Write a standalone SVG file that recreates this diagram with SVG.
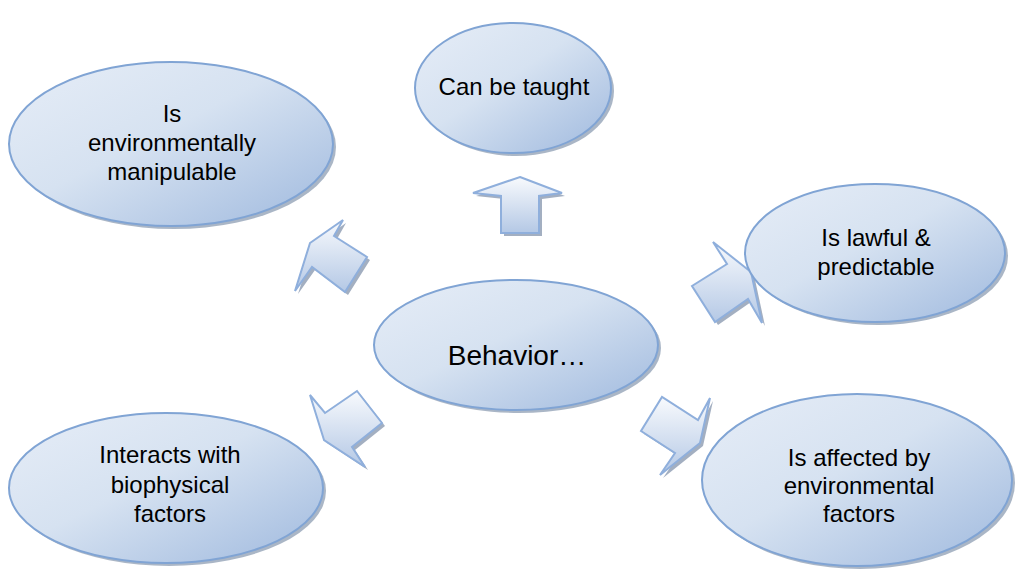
<svg xmlns="http://www.w3.org/2000/svg" width="1015" height="571" viewBox="0 0 1015 571">
<defs>
<linearGradient id="eg" x1="0" y1="0" x2="1" y2="1">
<stop offset="0" stop-color="#e6edf7"/>
<stop offset="0.45" stop-color="#d6e2f1"/>
<stop offset="1" stop-color="#9fb9de"/>
</linearGradient>
<linearGradient id="ag" x1="0" y1="0" x2="0" y2="1">
<stop offset="0" stop-color="#f8fafd"/>
<stop offset="1" stop-color="#b4c8e5"/>
</linearGradient>
<style>
.ell{fill:url(#eg);stroke:#80a4d4;stroke-width:2}
.esh{fill:#8e9db3;opacity:0.75}
.arr{fill:url(#ag);stroke:#8fafdc;stroke-width:2;stroke-linejoin:miter}
.ash{fill:#8c9bb1;opacity:0.8}
.t{font-family:"Liberation Sans",Arial,sans-serif;font-size:24px;fill:#000;text-anchor:middle}
.tb{font-size:28px}
</style>
</defs>
<rect width="1015" height="571" fill="#fff"/>
<g id="connectors">
<g id="arrow-up">
<polygon class="ash" transform="translate(3,3)" points="520,177 562,193 539,196 539,233 501,233 501,196 473,193"/>
<polygon class="arr" points="520,177 562,193 539,196 539,233 501,233 501,196 473,193"/>
</g>
<g id="arrow-upleft">
<polygon class="ash" transform="translate(3,3)" points="310,243 343,220 334,236 367,257 345,292 312,267 295,291"/>
<polygon class="arr" points="310,243 343,220 334,236 367,257 345,292 312,267 295,291"/>
</g>
<g id="arrow-upright">
<polygon class="ash" transform="translate(3,3)" points="751,272 762,323 748,299 715,322 692,286 727,264 713,242"/>
<polygon class="arr" points="751,272 762,323 748,299 715,322 692,286 727,264 713,242"/>
</g>
<g id="arrow-downleft">
<polygon class="ash" transform="translate(3,3)" points="324,440 310,395 325,413 357,391 382,423 352,447 365,467"/>
<polygon class="arr" points="324,440 310,395 325,413 357,391 382,423 352,447 365,467"/>
</g>
<g id="arrow-downright">
<polygon class="ash" transform="translate(3,3)" points="700,443 660,475 675,453 641,431 662,397 698,420 710,398"/>
<polygon class="arr" points="700,443 660,475 675,453 641,431 662,397 698,420 710,398"/>
</g>
</g>
<g id="node-center">
<ellipse class="esh" cx="519" cy="348" rx="142" ry="65"/>
<ellipse class="ell" cx="516" cy="345" rx="142" ry="65"/>
<text class="t tb" x="517" y="365">Behavior…</text>
</g>
<g id="node-top">
<ellipse class="esh" cx="516" cy="91" rx="98" ry="65"/>
<ellipse class="ell" cx="513" cy="88" rx="98" ry="65"/>
<text class="t" x="514" y="95">Can be taught</text>
</g>
<g id="node-upleft">
<ellipse class="esh" cx="174" cy="147" rx="162" ry="82"/>
<ellipse class="ell" cx="171" cy="144" rx="162" ry="82"/>
<text class="t" x="172" y="122">Is</text>
<text class="t" x="172" y="151">environmentally</text>
<text class="t" x="172" y="180">manipulable</text>
</g>
<g id="node-right">
<ellipse class="esh" cx="878" cy="256" rx="130" ry="69"/>
<ellipse class="ell" cx="875" cy="253" rx="130" ry="69"/>
<text class="t" x="876" y="246">Is lawful &amp;</text>
<text class="t" x="876" y="275">predictable</text>
</g>
<g id="node-downleft">
<ellipse class="esh" cx="169" cy="491" rx="157" ry="75"/>
<ellipse class="ell" cx="166" cy="488" rx="157" ry="75"/>
<text class="t" x="170" y="463">Interacts with</text>
<text class="t" x="170" y="493">biophysical</text>
<text class="t" x="170" y="522">factors</text>
</g>
<g id="node-downright">
<ellipse class="esh" cx="860" cy="483" rx="155" ry="86"/>
<ellipse class="ell" cx="857" cy="480" rx="155" ry="86"/>
<text class="t" x="859" y="466">Is affected by</text>
<text class="t" x="859" y="494">environmental</text>
<text class="t" x="859" y="522">factors</text>
</g>
</svg>
